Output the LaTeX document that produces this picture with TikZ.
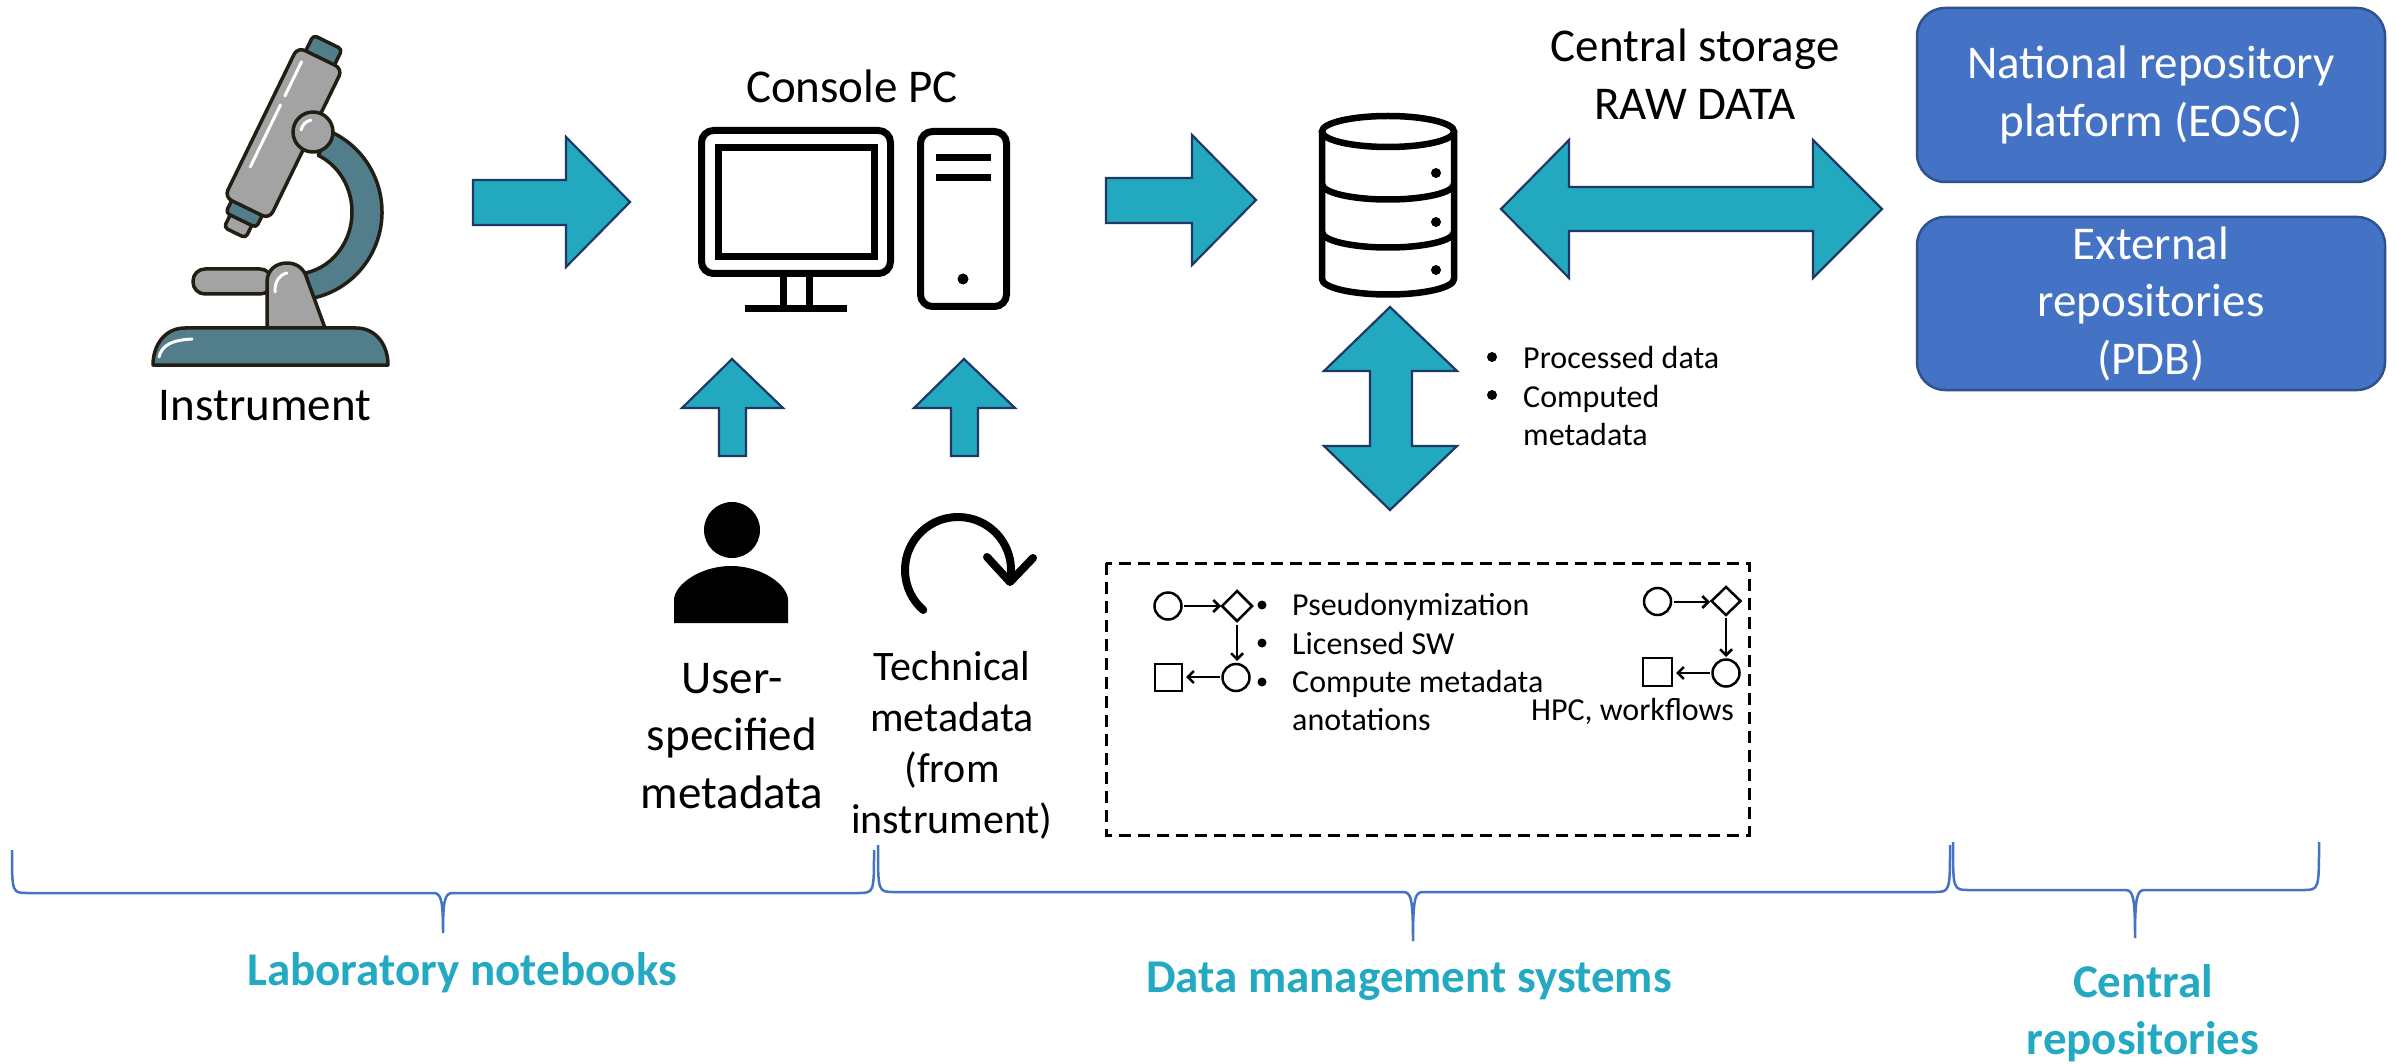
\documentclass[tikz,border=0pt]{standalone}
\usepackage{fontspec}
\setmainfont{Carlito}
\usetikzlibrary{arrows.meta}
\definecolor{flowteal}{HTML}{22A9C0}
\definecolor{flowedge}{HTML}{1F3864}
\definecolor{repoblue}{HTML}{4472C4}
\definecolor{repoedge}{HTML}{2F528F}
\definecolor{bracecol}{HTML}{4472C4}
\definecolor{labelteal}{HTML}{23A9C1}
\definecolor{metalgray}{HTML}{A3A3A3}
\definecolor{armteal}{HTML}{527E8C}
\definecolor{inkdark}{HTML}{231E14}
\newcommand\fsBig{\fontsize{47}{57.5}\selectfont}
\newcommand\fsMid{\fontsize{42}{51}\selectfont}
\newcommand\fsSmall{\fontsize{32}{38.5}\selectfont}
% curly brace: x-left, x-middle, x-right, y-top, y-line, y-tip
\newcommand\curlybrace[6]{%
  \draw[brace] (#1,#4) .. controls (#1,#5) and (#1,#5) .. ({#1+16},#5)
    -- ({#2-10},#5) .. controls ({#2-2},#5) and (#2,{#5-6}) .. (#2,#6)
    .. controls (#2,{#5-6}) and ({#2+2},#5) .. ({#2+10},#5)
    -- ({#3-16},#5) .. controls (#3,#5) and (#3,#5) .. (#3,#4);}
\begin{document}
\begin{tikzpicture}[x=1pt,y=1pt,
  blockarrow/.style={fill=flowteal,draw=flowedge,line width=2.2},
  scopepart/.style={draw=inkdark,line width=3.5,line join=round},
  shine/.style={draw=white,line width=3,line cap=round},
  iconstroke/.style={draw=black,line width=7},
  repo/.style={draw=repoedge,fill=repoblue,line width=2.5,rounded corners=28,
    minimum width=468,minimum height=174,inner sep=0,text=white,font=\fsBig,align=center},
  brace/.style={draw=bracecol,line width=2.5},
  flowicon/.style={draw=black,line width=2.5},
  flowarrow/.style={flowicon,-{Straight Barb[length=6,width=12]}},
  caption/.style={font=\fsBig,align=flush center,anchor=base,inner sep=0},
  smalltext/.style={font=\fsSmall,align=flush left,anchor=base west,inner sep=0},
  section/.style={font=\fsBig\bfseries,text=labelteal,align=flush center,anchor=base,inner sep=0},
]
\fill[white] (0,-1064) rectangle (2395,0);
\useasboundingbox (0,-1064) rectangle (2395,0);

% ---------------- microscope ----------------
\filldraw[scopepart,fill=armteal]
  ([shift={(295,-212)}]66:87 and 88) arc[start angle=66,end angle=-80,x radius=87,y radius=88]
  -- ([shift={(295,-212)}]-80:57 and 62) arc[start angle=-80,end angle=66,x radius=57,y radius=62]
  -- cycle;
\filldraw[scopepart,fill=metalgray,rounded corners=12] (193,-269) rectangle (272,-294);
\filldraw[scopepart,fill=metalgray] (267,-328) -- (267,-282)
  .. controls (267,-270) and (276,-263) .. (287,-263)
  .. controls (298,-263) and (304,-270) .. (306,-276) -- (325,-328) -- cycle;
\draw[shine] (275,-292) .. controls (275,-281) and (279,-275) .. (287,-273);
\filldraw[scopepart,fill=armteal] (153,-365) -- (388,-365)
  .. controls (388,-345) and (376,-328) .. (356,-328) -- (185,-328)
  .. controls (165,-328) and (153,-345) .. (153,-365) -- cycle;
\draw[shine] (159,-357) .. controls (162,-345) and (172,-340) .. (192,-339);
\begin{scope}[shift={(283.5,-133)},rotate=-26]
  \filldraw[scopepart,fill=armteal,rounded corners=4] (-16,80) rectangle (16,101);
  \filldraw[scopepart,fill=metalgray,rounded corners=4] (-12,-92) rectangle (12,-111);
  \filldraw[scopepart,fill=armteal,rounded corners=4] (-17,-78) rectangle (17,-97);
  \filldraw[scopepart,fill=metalgray,rounded corners=8] (-25,-83.5) rectangle (25,83.5);
  \draw[shine] (-15,72) -- (-15,34) (-15,24) -- (-15,-45);
\end{scope}
\filldraw[scopepart,fill=metalgray] (313,-132) circle[radius=20];
\draw[shine] ([shift={(313,-132)}]170:12) arc[start angle=170,end angle=100,radius=12];
\node[caption] (instrument) at (265,-420) {Instrument};

% ---------------- console PC ----------------
\node[caption] (console) at (852,-103) {Console PC};
\draw[iconstroke,rounded corners=12] (701.5,-130.5) rectangle (890.5,-273.5);
\draw[iconstroke] (718.5,-147.5) rectangle (874.5,-256.5);
\draw[iconstroke] (783.5,-277) -- (783.5,-305) (809.5,-277) -- (809.5,-305);
\draw[iconstroke] (745,-308.5) -- (847,-308.5);
\draw[iconstroke,rounded corners=12] (920.5,-131.5) rectangle (1006.5,-306.5);
\draw[iconstroke] (936,-157.5) -- (991,-157.5) (936,-178) -- (991,-178);
\fill (963,-279) circle[radius=5.5];

% ---------------- storage ----------------
\draw[line width=6.5] (1388,-131.5) ellipse[x radius=66,y radius=15.5];
\draw[line width=6.5,line join=round] (1322,-131.5) -- (1322,-279)
  arc[start angle=180,end angle=360,x radius=66,y radius=15.5] -- (1454,-131.5);
\draw[line width=6.5] (1322,-184) arc[start angle=180,end angle=360,x radius=66,y radius=15.5];
\draw[line width=6.5] (1322,-232) arc[start angle=180,end angle=360,x radius=66,y radius=15.5];
\fill (1436,-173) circle[radius=5] (1436,-222) circle[radius=5] (1436,-270) circle[radius=5];
\node[caption,text width=420] (central) at (1695,-62) {Central storage\\RAW DATA};

% ---------------- block arrows ----------------
\filldraw[blockarrow] (473,-180) -- (566,-180) -- (566,-137) -- (630,-202)
  -- (566,-267) -- (566,-225) -- (473,-225) -- cycle;
\filldraw[blockarrow] (1106,-178) -- (1192,-178) -- (1192,-135) -- (1256,-200)
  -- (1192,-265) -- (1192,-223) -- (1106,-223) -- cycle;
\filldraw[blockarrow] (1501,-209) -- (1569,-140) -- (1569,-187) -- (1813,-187)
  -- (1813,-140) -- (1882,-209) -- (1813,-278) -- (1813,-231) -- (1569,-231)
  -- (1569,-278) -- cycle;
\filldraw[blockarrow] (1390,-307) -- (1457,-371) -- (1412,-371) -- (1412,-446)
  -- (1457,-446) -- (1390,-510) -- (1324,-446) -- (1370,-446) -- (1370,-371)
  -- (1324,-371) -- cycle;
\filldraw[blockarrow] (732,-359) -- (783,-408) -- (746,-408) -- (746,-456)
  -- (719,-456) -- (719,-408) -- (682,-408) -- cycle;
\filldraw[blockarrow] (964,-359) -- (1015,-408) -- (978,-408) -- (978,-456)
  -- (951,-456) -- (951,-408) -- (914,-408) -- cycle;

% ---------------- repositories ----------------
\node[repo] (natrepo) at (2151,-95) {National repository\\platform (EOSC)};
\node[repo,minimum height=173] (extrepo) at (2151,-303.5) {External\\repositories\\(PDB)};

% ---------------- processed data notes ----------------
\fill (1492,-357) circle[radius=5] (1492,-395) circle[radius=5];
\node[smalltext] (procdata) at (1523,-368) {Processed data};
\node[smalltext,text width=200] (compdata) at (1523,-407) {Computed\\metadata};

% ---------------- metadata sources ----------------
\fill (732,-530) circle[radius=28];
\fill (674,-623) -- (674,-600) .. controls (674,-585) and (700,-566) .. (731,-566)
  .. controls (762,-566) and (788,-585) .. (788,-600) -- (788,-623) -- cycle;
\draw[line width=8,line cap=round] ([shift={(958,-570)}]229:53) arc[start angle=229,end angle=-8,radius=53];
\draw[line width=8,line cap=round,line join=round] (987,-557) -- (1010,-582) -- (1033,-558);
\node[caption,text width=300] (usermeta) at (732,-693) {User-\\specified\\metadata};
\node[caption,font=\fsMid,text width=320] (techmeta) at (952,-680) {Technical\\metadata\\(from\\instrument)};

% ---------------- processing services ----------------
\draw[line width=3,dash pattern=on 12 off 7] (1106,-563) rectangle (1749,-835);
\draw[flowicon] (1168,-606) circle[radius=13.5];
\draw[flowarrow] (1184,-606) -- (1221,-606);
\draw[flowicon,line join=miter] (1222,-606) -- (1237,-591) -- (1252,-606) -- (1237,-621) -- cycle;
\draw[flowarrow] (1237,-625) -- (1237,-661);
\draw[flowicon] (1236,-677.5) circle[radius=13.5];
\draw[flowarrow] (1220,-677) -- (1186,-677);
\draw[flowicon] (1155,-664) rectangle (1182,-691);
\fill (1262,-605) circle[radius=4.5] (1262,-643) circle[radius=4.5] (1262,-682) circle[radius=4.5];
\node[smalltext] (pseudo) at (1292,-615) {Pseudonymization};
\node[smalltext] (licsw) at (1292,-654) {Licensed SW};
\node[smalltext,text width=300] (compmeta) at (1292,-692) {Compute metadata\\anotations};
\draw[flowicon] (1657.5,-601.5) circle[radius=13.5];
\draw[flowarrow] (1674,-602) -- (1710,-602);
\draw[flowicon,line join=miter] (1711.5,-601) -- (1726,-587) -- (1740.5,-601) -- (1726,-615) -- cycle;
\draw[flowarrow] (1726,-618) -- (1726,-657);
\draw[flowicon] (1726,-673) circle[radius=13.5];
\draw[flowarrow] (1710,-673) -- (1676,-673);
\draw[flowicon] (1643,-658) rectangle (1672,-686);
\node[smalltext] (hpc) at (1531,-720) {HPC, workflows};

% ---------------- groupings ----------------
\curlybrace{12}{443}{874}{-850}{-893}{-933}
\curlybrace{878}{1413}{1950}{-845}{-892}{-941}
\curlybrace{1953}{2135}{2319}{-842}{-890}{-938}
\node[section] (labnb) at (462,-985) {Laboratory notebooks};
\node[section] (dms) at (1409,-992) {Data management systems};
\node[section,text width=320] (centrep) at (2143,-997) {Central\\repositories};
\end{tikzpicture}
\end{document}
